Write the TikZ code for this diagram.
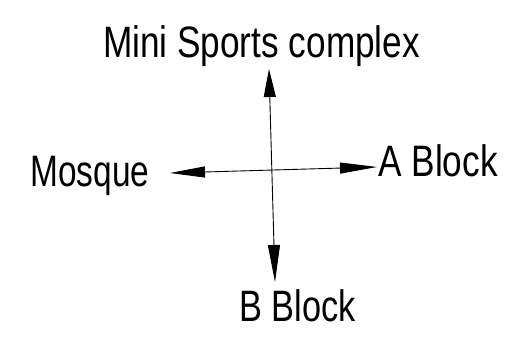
\documentclass[tikz,border=0pt]{standalone}
\usepackage{fontspec}
\setmainfont{Liberation Sans}
\usetikzlibrary{arrows.meta}
\begin{document}
\begin{tikzpicture}[x=1pt,y=-1pt,
  lbl/.style={inner sep=0pt,anchor=base,font=\fontsize{44}{50}\selectfont},
  ln/.style={line width=0.9pt}]
\useasboundingbox (0,0) rectangle (509,339);
\node[lbl] (top) at (261.5,58) {\scalebox{0.8}[1]{Mini Sports complex}};
\node[lbl] (left) at (90,187) {\scalebox{0.76}[1]{Mosque}};
\node[lbl] (right) at (438,177) {\scalebox{0.8}[1]{A Block}};
\node[lbl] (bottom) at (297.5,322) {\scalebox{0.78}[1]{B Block}};
\coordinate (tt) at (269,69);
\coordinate (bt) at (275,282);
\coordinate (lt) at (170,173);
\coordinate (rt) at (377,167);
\draw[ln,{Triangle[length=28pt,width=12pt]}-{Triangle[length=37pt,width=12pt]}] (tt) -- (bt);
\draw[ln,{Triangle[length=35pt,width=11pt]}-{Triangle[length=37pt,width=11pt]}] (lt) -- (rt);
\end{tikzpicture}
\end{document}
